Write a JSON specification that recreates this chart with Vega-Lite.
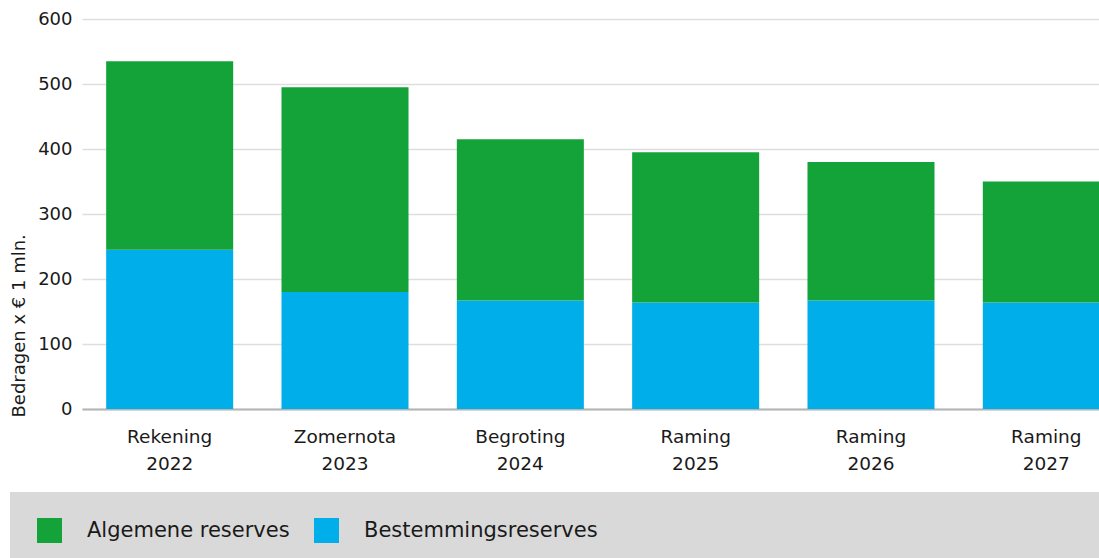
{
  "$schema": "https://vega.github.io/schema/vega-lite/v6.json",
  "padding": {"left": 10, "top": 10, "right": 0, "bottom": 0},
  "background": "white",
  "data": {
    "values": [
      {"categorie": "Rekening 2022", "reserve": "Bestemmingsreserves", "bedrag": 245},
      {"categorie": "Rekening 2022", "reserve": "Algemene reserves", "bedrag": 290},
      {"categorie": "Zomernota 2023", "reserve": "Bestemmingsreserves", "bedrag": 180},
      {"categorie": "Zomernota 2023", "reserve": "Algemene reserves", "bedrag": 315},
      {"categorie": "Begroting 2024", "reserve": "Bestemmingsreserves", "bedrag": 167},
      {"categorie": "Begroting 2024", "reserve": "Algemene reserves", "bedrag": 248},
      {"categorie": "Raming 2025", "reserve": "Bestemmingsreserves", "bedrag": 164},
      {"categorie": "Raming 2025", "reserve": "Algemene reserves", "bedrag": 231},
      {"categorie": "Raming 2026", "reserve": "Bestemmingsreserves", "bedrag": 167},
      {"categorie": "Raming 2026", "reserve": "Algemene reserves", "bedrag": 213},
      {"categorie": "Raming 2027", "reserve": "Bestemmingsreserves", "bedrag": 164},
      {"categorie": "Raming 2027", "reserve": "Algemene reserves", "bedrag": 186}
    ]
  },
  "spacing": 19,
  "vconcat": [
    {
      "width": 1052,
      "height": 390,
      "mark": {"type": "bar"},
      "encoding": {
        "x": {
          "field": "categorie",
          "type": "nominal",
          "sort": null,
          "scale": {"paddingInner": 0.2755, "paddingOuter": 0.1378},
          "axis": {
            "title": null,
            "labelAngle": 0,
            "labelExpr": "split(datum.label, ' ')",
            "labelFont": "DejaVu Sans",
            "labelFontSize": 18.5,
            "labelLineHeight": 27,
            "labelColor": "#1a1a1a",
            "labelPadding": 18,
            "labelLimit": 0,
            "ticks": false,
            "tickSize": 0,
            "domain": true,
            "domainColor": "#b4b4b4",
            "domainWidth": 2,
            "grid": false
          }
        },
        "y": {
          "field": "bedrag",
          "type": "quantitative",
          "stack": "zero",
          "scale": {"domain": [0, 600], "nice": false},
          "axis": {
            "title": "Bedragen x € 1 mln.",
            "titleFont": "DejaVu Sans",
            "titleFontSize": 18,
            "titleFontWeight": "normal",
            "titleColor": "#1a1a1a",
            "titleAnchor": "start",
            "titleY": 398,
            "titlePadding": 9,
            "values": [0, 100, 200, 300, 400, 500, 600],
            "labelFont": "DejaVu Sans",
            "labelFontSize": 18,
            "labelColor": "#1a1a1a",
            "labelPadding": 10,
            "ticks": false,
            "domain": false,
            "grid": true,
            "gridColor": "#dedede",
            "gridWidth": 1.5
          }
        },
        "color": {
          "field": "reserve",
          "type": "nominal",
          "scale": {
            "domain": ["Algemene reserves", "Bestemmingsreserves"],
            "range": ["#14a338", "#00afea"]
          },
          "legend": {
            "orient": "none",
            "legendX": -72,
            "legendY": 473,
            "direction": "horizontal",
            "title": null,
            "fillColor": "#d9d9d9",
            "strokeColor": null,
            "padding": 26,
            "symbolOffset": 1,
            "symbolType": "square",
            "symbolSize": 625,
            "symbolStrokeWidth": 0,
            "symbolOpacity": 1,
            "labelFont": "DejaVu Sans",
            "labelFontSize": 21,
            "labelColor": "#1a1a1a",
            "labelOffset": 25,
            "labelLimit": 0,
            "columnPadding": 23
          }
        },
        "order": {"field": "reserve", "sort": "descending"}
      }
    },
    {
      "width": 1124,
      "height": 66,
      "view": {"fill": "#d9d9d9", "stroke": null},
      "mark": {"type": "point", "opacity": 0},
      "encoding": {}
    }
  ],
  "config": {
    "view": {"stroke": null}
  }
}
